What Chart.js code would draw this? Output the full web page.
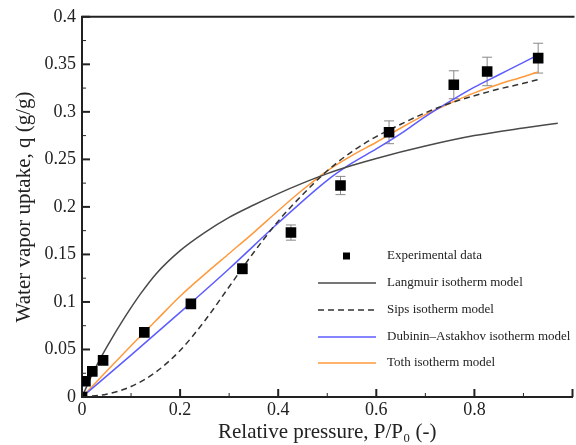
<!DOCTYPE html>
<html>
<head>
<meta charset="utf-8">
<script src="https://cdn.jsdelivr.net/npm/chart.js@4"></script>
<style>
  html, body { margin: 0; padding: 0; background: #fff; overflow: hidden; }
  #wrap { width: 580px; height: 445px; }
</style>
</head>
<body>
<div id="wrap"><canvas id="chart" width="580" height="445"></canvas></div>
<script>
// experimental points with error bars
const xExp = [0, 0.007, 0.021, 0.043, 0.127, 0.222, 0.327, 0.426, 0.527, 0.626, 0.758, 0.826, 0.93];
const yExp = [0, 0.0165, 0.027, 0.0385, 0.068, 0.098, 0.135, 0.173, 0.2225, 0.2785, 0.3285, 0.3425, 0.3565];
const errExp = [0, 0.001, 0.001, 0.002, 0.003, 0.004, 0.0055, 0.008, 0.0096, 0.012, 0.0147, 0.015, 0.0157];

// model curves
const xLang = [0, 0.02, 0.04, 0.06, 0.08, 0.1, 0.12, 0.15, 0.2, 0.25, 0.3, 0.35, 0.4, 0.45, 0.5, 0.55, 0.6, 0.7, 0.8, 0.9, 0.97];
const yLang = [0, 0.023, 0.043, 0.061, 0.078, 0.094, 0.109, 0.129, 0.154, 0.173, 0.189, 0.202, 0.214, 0.225, 0.235, 0.2435, 0.251, 0.264, 0.275, 0.283, 0.288];

const xSips = [0, 0.05, 0.1, 0.15, 0.2, 0.25, 0.3, 0.35, 0.4, 0.45, 0.5, 0.55, 0.6, 0.65, 0.7, 0.75, 0.8, 0.85, 0.9, 0.93];
const ySips = [0, 0.003, 0.011, 0.026, 0.049, 0.08, 0.116, 0.152, 0.185, 0.213, 0.238, 0.258, 0.274, 0.287, 0.299, 0.309, 0.317, 0.324, 0.33, 0.334];

const xDA = [0, 0.1, 0.2, 0.3, 0.4, 0.5, 0.55, 0.6, 0.65, 0.7, 0.75, 0.8, 0.85, 0.9, 0.93];
const yDA = [0, 0.044, 0.089, 0.135, 0.183, 0.228, 0.246, 0.261, 0.277, 0.295, 0.311, 0.326, 0.339, 0.352, 0.36];

const xToth = [0, 0.05, 0.1, 0.15, 0.2, 0.25, 0.3, 0.35, 0.4, 0.45, 0.5, 0.55, 0.6, 0.65, 0.7, 0.75, 0.8, 0.85, 0.9, 0.93];
const yToth = [0, 0.027, 0.054, 0.08, 0.106, 0.129, 0.151, 0.173, 0.196, 0.218, 0.238, 0.254, 0.268, 0.283, 0.297, 0.309, 0.32, 0.329, 0.337, 0.342];

const seriesLabels = ["Experimental data", "Langmuir isotherm model", "Sips isotherm model", "Dubinin\u2013Astakhov isotherm model", "Toth isotherm model"];

const FONT = "'Liberation Serif', 'Times New Roman', serif";
const pts = (xs, ys) => xs.map((x, i) => ({ x: x, y: ys[i] }));

// error bars under the squares
const errorBars = {
  id: "errorBars",
  beforeDatasetsDraw(chart) {
    const { ctx, scales: { x, y } } = chart;
    ctx.save();
    ctx.strokeStyle = "#888";
    ctx.lineWidth = 1;
    xExp.forEach((v, i) => {
      if (errExp[i] < 0.005) return;
      const px = x.getPixelForValue(v);
      const top = y.getPixelForValue(yExp[i] + errExp[i]);
      const bot = y.getPixelForValue(yExp[i] - errExp[i]);
      ctx.beginPath();
      ctx.moveTo(px, top); ctx.lineTo(px, bot);
      ctx.moveTo(px - 5, top); ctx.lineTo(px + 5, top);
      ctx.moveTo(px - 5, bot); ctx.lineTo(px + 5, bot);
      ctx.stroke();
    });
    ctx.restore();
  }
};

// inward ticks + top frame line
const frame = {
  id: "frame",
  afterDraw(chart) {
    const { ctx, chartArea: a, scales: { x, y } } = chart;
    ctx.save();
    ctx.strokeStyle = "#222";
    for (let i = 0; i <= 10; i++) {
      const px = x.getPixelForValue(i / 10);
      const major = i % 2 === 0;
      ctx.lineWidth = major ? 2 : 1;
      ctx.beginPath();
      ctx.moveTo(px, a.bottom);
      ctx.lineTo(px, a.bottom - (major ? 8 : 4));
      ctx.stroke();
    }
    for (let i = 0; i <= 16; i++) {
      const py = y.getPixelForValue(i * 0.025);
      const major = i % 2 === 0;
      ctx.lineWidth = major ? 2 : 1;
      ctx.beginPath();
      ctx.moveTo(a.left, py);
      ctx.lineTo(a.left + (major ? 8 : 4), py);
      ctx.stroke();
    }
    ctx.lineWidth = 2;
    ctx.beginPath();
    ctx.moveTo(a.left - 1, a.top);
    ctx.lineTo(a.right + 2, a.top);
    ctx.stroke();
    ctx.restore();
  }
};

// legend inside the plot
const insideLegend = {
  id: "insideLegend",
  afterDraw(chart) {
    const ctx = chart.ctx;
    const rows = [256, 283, 310, 337, 363];
    ctx.save();
    ctx.font = "13px " + FONT;
    ctx.textBaseline = "middle";
    chart.data.datasets.forEach((ds, i) => {
      const yy = rows[i];
      if (i === 0) {
        ctx.fillStyle = "#000";
        ctx.fillRect(343, yy - 3.5, 7, 7);
      } else {
        ctx.strokeStyle = ds.borderColor;
        ctx.lineWidth = ds.borderWidth;
        ctx.setLineDash(ds.borderDash || []);
        ctx.beginPath();
        ctx.moveTo(318, yy);
        ctx.lineTo(376, yy);
        ctx.stroke();
        ctx.setLineDash([]);
      }
      ctx.fillStyle = "#222";
      ctx.fillText(ds.label, 387, yy);
    });
    ctx.restore();
  }
};

new Chart(document.getElementById("chart"), {
  type: "scatter",
  data: {
    datasets: [
      {
        label: seriesLabels[0],
        data: pts(xExp, yExp),
        pointStyle: "rect",
        pointRadius: 7.5,
        backgroundColor: "#000",
        borderColor: "#000",
        borderWidth: 0
      },
      {
        label: seriesLabels[1],
        type: "line",
        data: pts(xLang, yLang),
        borderColor: "#4a4a4a",
        borderWidth: 1.5,
        pointRadius: 0,
        cubicInterpolationMode: "monotone",
        fill: false
      },
      {
        label: seriesLabels[2],
        type: "line",
        data: pts(xSips, ySips),
        borderColor: "#333",
        borderWidth: 1.5,
        borderDash: [6, 4],
        pointRadius: 0,
        cubicInterpolationMode: "monotone",
        fill: false
      },
      {
        label: seriesLabels[3],
        type: "line",
        data: pts(xDA, yDA),
        borderColor: "#5c5cff",
        borderWidth: 1.5,
        pointRadius: 0,
        cubicInterpolationMode: "monotone",
        fill: false
      },
      {
        label: seriesLabels[4],
        type: "line",
        data: pts(xToth, yToth),
        borderColor: "#ff9a3c",
        borderWidth: 1.5,
        pointRadius: 0,
        cubicInterpolationMode: "monotone",
        fill: false
      }
    ]
  },
  options: {
    responsive: false,
    animation: false,
    layout: { padding: { top: 15, right: 2, left: 0, bottom: 0 } },
    plugins: {
      legend: { display: false },
      tooltip: { enabled: false }
    },
    scales: {
      x: {
        type: "linear",
        min: 0,
        max: 1,
        afterFit(scale) { scale.height = 48; },
        grid: { display: false, drawTicks: false },
        border: { display: true, color: "#222", width: 2 },
        ticks: {
          stepSize: 0.2,
          padding: 2,
          color: "#222",
          font: { family: FONT, size: 18 },
          callback: (v) => (v >= 0.99 ? "" : String(Math.round(v * 10) / 10))
        },
        title: {
          display: true,
          text: "Relative pressure, P/P\u2080 (-)",
          color: "#222",
          font: { family: FONT, size: 21 },
          padding: { top: 0, bottom: 0 }
        }
      },
      y: {
        min: 0,
        max: 0.4,
        afterFit(scale) { scale.width = 82; },
        grid: { display: false, drawTicks: false },
        border: { display: true, color: "#222", width: 2 },
        ticks: {
          stepSize: 0.05,
          padding: 6,
          color: "#222",
          font: { family: FONT, size: 18 },
          callback: (v) => String(Math.round(v * 100) / 100)
        },
        title: {
          display: true,
          text: "Water vapor uptake, q (g/g)",
          color: "#222",
          font: { family: FONT, size: 21 },
          padding: { top: 12, bottom: 0 }
        }
      }
    }
  },
  plugins: [errorBars, frame, insideLegend]
});
</script>
</body>
</html>
